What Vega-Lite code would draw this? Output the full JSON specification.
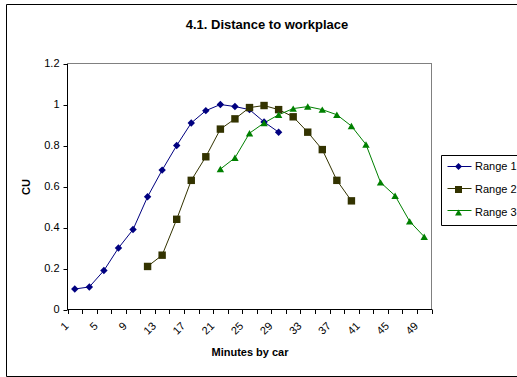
{
  "$schema": "https://vega.github.io/schema/vega-lite/v6.json",
  "autosize": {"type": "none"},
  "width": 522,
  "height": 372,
  "padding": {"left": 6, "top": 4, "right": -11, "bottom": 1},
  "background": "white",
  "title": {
    "text": "4.1. Distance to workplace",
    "anchor": "middle",
    "frame": "group",
    "offset": -28,
    "fontSize": 13,
    "fontWeight": "bold",
    "color": "black"
  },
  "data": {
    "values": [
      {"series": "Range 1", "minutes": 1, "cu": 0.10},
      {"series": "Range 1", "minutes": 3, "cu": 0.11},
      {"series": "Range 1", "minutes": 5, "cu": 0.19},
      {"series": "Range 1", "minutes": 7, "cu": 0.30},
      {"series": "Range 1", "minutes": 9, "cu": 0.39},
      {"series": "Range 1", "minutes": 11, "cu": 0.55},
      {"series": "Range 1", "minutes": 13, "cu": 0.68},
      {"series": "Range 1", "minutes": 15, "cu": 0.80},
      {"series": "Range 1", "minutes": 17, "cu": 0.91},
      {"series": "Range 1", "minutes": 19, "cu": 0.97},
      {"series": "Range 1", "minutes": 21, "cu": 1.00},
      {"series": "Range 1", "minutes": 23, "cu": 0.99},
      {"series": "Range 1", "minutes": 25, "cu": 0.975},
      {"series": "Range 1", "minutes": 27, "cu": 0.915},
      {"series": "Range 1", "minutes": 29, "cu": 0.865},
      {"series": "Range 2", "minutes": 11, "cu": 0.21},
      {"series": "Range 2", "minutes": 13, "cu": 0.265},
      {"series": "Range 2", "minutes": 15, "cu": 0.44},
      {"series": "Range 2", "minutes": 17, "cu": 0.63},
      {"series": "Range 2", "minutes": 19, "cu": 0.745},
      {"series": "Range 2", "minutes": 21, "cu": 0.88},
      {"series": "Range 2", "minutes": 23, "cu": 0.93},
      {"series": "Range 2", "minutes": 25, "cu": 0.985},
      {"series": "Range 2", "minutes": 27, "cu": 0.995},
      {"series": "Range 2", "minutes": 29, "cu": 0.975},
      {"series": "Range 2", "minutes": 31, "cu": 0.94},
      {"series": "Range 2", "minutes": 33, "cu": 0.865},
      {"series": "Range 2", "minutes": 35, "cu": 0.78},
      {"series": "Range 2", "minutes": 37, "cu": 0.63},
      {"series": "Range 2", "minutes": 39, "cu": 0.53},
      {"series": "Range 3", "minutes": 21, "cu": 0.685},
      {"series": "Range 3", "minutes": 23, "cu": 0.74},
      {"series": "Range 3", "minutes": 25, "cu": 0.86},
      {"series": "Range 3", "minutes": 27, "cu": 0.91},
      {"series": "Range 3", "minutes": 29, "cu": 0.95},
      {"series": "Range 3", "minutes": 31, "cu": 0.98},
      {"series": "Range 3", "minutes": 33, "cu": 0.99},
      {"series": "Range 3", "minutes": 35, "cu": 0.975},
      {"series": "Range 3", "minutes": 37, "cu": 0.95},
      {"series": "Range 3", "minutes": 39, "cu": 0.895},
      {"series": "Range 3", "minutes": 41, "cu": 0.805},
      {"series": "Range 3", "minutes": 43, "cu": 0.62},
      {"series": "Range 3", "minutes": 45, "cu": 0.555},
      {"series": "Range 3", "minutes": 47, "cu": 0.43},
      {"series": "Range 3", "minutes": 49, "cu": 0.355}
    ]
  },
  "layer": [
    {
      "mark": {"type": "rect", "fill": null, "stroke": "#808080", "strokeWidth": 1},
      "encoding": {
        "x": {
          "datum": 0,
          "type": "quantitative",
          "scale": {"domain": [0, 50], "range": [61.5, 425.5], "nice": false, "zero": false},
          "axis": {
            "orient": "bottom",
            "offset": -67,
            "zindex": 1,
            "values": [0, 2, 4, 6, 8, 10, 12, 14, 16, 18, 20, 22, 24, 26, 28, 30, 32, 34, 36, 38, 40, 42, 44, 46, 48, 50],
            "labels": false,
            "ticks": true,
            "tickSize": 4.5,
            "tickColor": "black",
            "domain": true,
            "domainColor": "black",
            "grid": false,
            "title": null
          }
        },
        "x2": {"datum": 50},
        "y": {
          "datum": 0,
          "type": "quantitative",
          "scale": {"domain": [0, 1.2], "range": [305.5, 59.5], "nice": false},
          "axis": null
        },
        "y2": {"datum": 1.2}
      }
    },
    {
      "mark": {"type": "line", "strokeWidth": 1},
      "encoding": {
        "x": {
          "field": "minutes",
          "type": "quantitative",
          "scale": {"domain": [0, 50], "range": [61.5, 425.5], "nice": false, "zero": false},
          "axis": {
            "orient": "bottom",
            "offset": -67,
            "values": [1, 5, 9, 13, 17, 21, 25, 29, 33, 37, 41, 45, 49],
            "ticks": false,
            "domain": false,
            "grid": false,
            "labelAngle": -45,
            "labelAlign": "right",
            "labelBaseline": "middle",
            "labelOffset": -8,
            "labelPadding": 15,
            "labelFontSize": 11,
            "labelColor": "black",
            "labelFlush": false,
            "labelOverlap": false,
            "title": "Minutes by car",
            "titleFontSize": 11,
            "titleFontWeight": "bold",
            "titleColor": "black",
            "titlePadding": 10
          }
        },
        "y": {
          "field": "cu",
          "type": "quantitative",
          "scale": {"domain": [0, 1.2], "range": [305.5, 59.5], "nice": false},
          "axis": {
            "orient": "left",
            "offset": -61,
            "zindex": 1,
            "values": [0, 0.2, 0.4, 0.6, 0.8, 1, 1.2],
            "format": ".1~f",
            "tickSize": 4,
            "tickColor": "black",
            "domainColor": "black",
            "grid": false,
            "labelPadding": 4,
            "labelFontSize": 11,
            "labelColor": "black",
            "labelOverlap": false,
            "labelFlush": false,
            "title": "CU",
            "titleFontSize": 11,
            "titleFontWeight": "bold",
            "titleColor": "black",
            "titlePadding": 12
          }
        },
        "stroke": {
          "field": "series",
          "type": "nominal",
          "scale": {"range": ["#000080", "#333300", "#008000"]},
          "legend": {
            "orient": "none",
            "legendX": 435,
            "legendY": 151,
            "zindex": 2,
            "title": null,
            "padding": 6,
            "rowPadding": 10,
            "symbolType": "M-4.4,0H5.2",
            "symbolSize": 25,
            "symbolStrokeWidth": 1,
            "symbolOffset": 6,
            "labelFontSize": 11,
            "labelExpr": "''",
            "labelOffset": 11
          }
        },
        "detail": {"field": "series"}
      }
    },
    {
      "mark": {"type": "point", "filled": true, "opacity": 1, "size": 55},
      "encoding": {
        "x": {
          "field": "minutes",
          "type": "quantitative",
          "scale": {"domain": [0, 50], "range": [61.5, 425.5], "nice": false, "zero": false},
          "axis": null
        },
        "y": {
          "field": "cu",
          "type": "quantitative",
          "scale": {"domain": [0, 1.2], "range": [305.5, 59.5], "nice": false},
          "axis": null
        },
        "fill": {
          "field": "series",
          "type": "nominal",
          "scale": {"domain": ["Range 1", "Range 2", "Range 3"], "range": ["#000080", "#333300", "#008000"]},
          "legend": {
            "orient": "none",
            "legendX": 435,
            "legendY": 151,
            "zindex": 1,
            "title": null,
            "strokeColor": "black",
            "fillColor": "white",
            "padding": 6,
            "rowPadding": 10,
            "symbolSize": 49,
            "symbolOffset": 6,
            "labelFontSize": 11,
            "labelColor": "black",
            "labelOffset": 11
          }
        },
        "shape": {
          "field": "series",
          "type": "nominal",
          "scale": {"domain": ["Range 1", "Range 2", "Range 3"], "range": ["diamond", "square", "triangle-up"]},
          "legend": {
            "orient": "none",
            "legendX": 435,
            "legendY": 151,
            "zindex": 1,
            "title": null,
            "strokeColor": "black",
            "fillColor": "white",
            "padding": 6,
            "rowPadding": 10,
            "symbolSize": 49,
            "symbolOffset": 6,
            "labelFontSize": 11,
            "labelColor": "black",
            "labelOffset": 11
          }
        }
      }
    }
  ],
  "resolve": {"axis": {"x": "independent", "y": "independent"}},
  "config": {
    "font": "Liberation Sans",
    "view": {"stroke": "black", "strokeWidth": 1}
  }
}
